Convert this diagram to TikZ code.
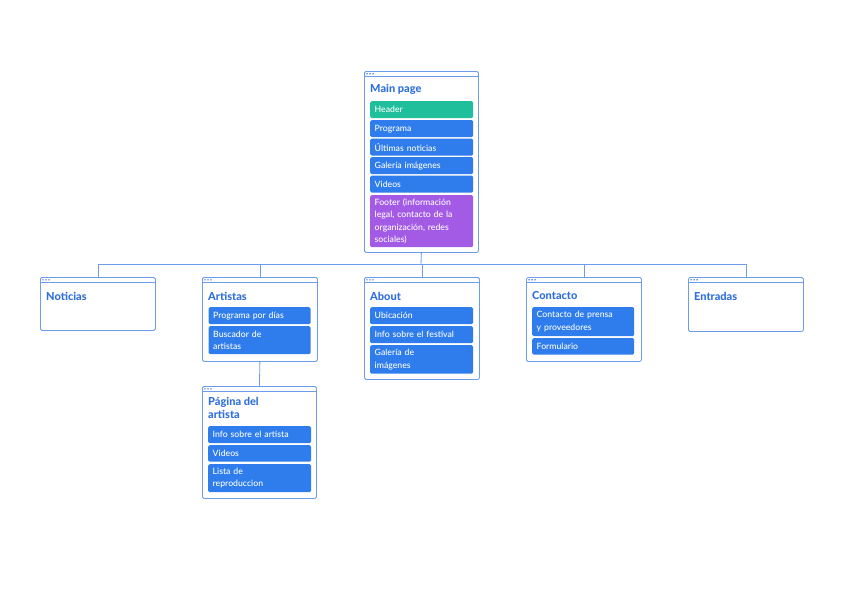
\documentclass[tikz,border=0pt]{standalone}
\usepackage{fontspec}
\setmainfont{Lato}[BoldFont={Lato Heavy}]
\newfontfamily\medfont{Lato Medium}
\definecolor{winblue}{HTML}{6C9CEB}
\definecolor{titleblue}{HTML}{2F6FDD}
\definecolor{itemblue}{HTML}{2F7DEC}
\definecolor{teal}{HTML}{20BF9C}
\definecolor{purp}{HTML}{A35BE6}
\tikzset{
  win/.style={draw=winblue, line width=0.8pt, rounded corners=1.5pt, fill=white, anchor=north west, inner sep=0pt},
  itm/.style={fill=itemblue, rounded corners=1.5pt, anchor=north west, text=white, font=\medfont\fontsize{8.7}{12.4}\selectfont, align=left, inner xsep=4.5pt, inner ysep=0pt},
  ttl/.style={anchor=west, text=titleblue, font=\fontsize{11}{12.4}\selectfont\bfseries, inner sep=0pt, align=left},
  conn/.style={draw=winblue, line width=0.8pt},
}
\newcommand\winbox[5]{% name, x, y, w, h
  \node[win, minimum width=#4pt, minimum height=#5pt] (#1) at (#2,#3) {};
  \draw[winblue, line width=0.6pt] ([yshift=-5.5pt]#1.north west) -- ([yshift=-5.5pt]#1.north east);
  \foreach \d in {3,6,9} \fill[titleblue] ([xshift=\d pt, yshift=-2.8pt]#1.north west) circle (0.8pt);
}
\newcommand\itembox[7]{% name, x, y, w, h, color, text
  \node[itm, fill=#6, minimum width=#4pt, minimum height=#5pt, text width=#4pt-9pt] (#1) at (#2,#3) {#7};
}
\begin{document}
\begin{tikzpicture}[x=1pt,y=-1pt]
\useasboundingbox (0,0) rectangle (842,595);
\fill[white] (0,0) rectangle (842,595);

% windows
\winbox{main}{364}{71}{114}{181}
\winbox{noticias}{40}{277}{115}{53}
\winbox{artistas}{202}{277}{115}{84}
\winbox{about}{364}{277}{115}{102}
\winbox{contacto}{526}{277}{115}{84}
\winbox{entradas}{688}{277}{115}{54}
\winbox{pagina}{202}{386}{114}{112}

% titles
\node[ttl] (tmain) at (370,89) {Main page};
\node[ttl] (tnot) at (46,296) {Noticias};
\node[ttl] (tart) at (208,296) {Artistas};
\node[ttl] (tabout) at (370,296) {About};
\node[ttl] (tcont) at (532,296) {Contacto};
\node[ttl] (tent) at (694,296) {Entradas};
\node[ttl] (tpag) at (208,408) {Página del\\artista};

% main page items
\itembox{header}{370}{101}{103}{17}{teal}{Header}
\itembox{programa}{370}{120}{103}{17}{itemblue}{Programa}
\itembox{ultimas}{370}{138.5}{103}{17}{itemblue}{Últimas noticias}
\itembox{galeria}{370}{157}{103}{17}{itemblue}{Galería imágenes}
\itembox{videos}{370}{175.5}{103}{17}{itemblue}{Videos}
\itembox{footer}{370}{195}{103}{52}{purp}{Footer (información\\legal, contacto de la\\organización, redes\\sociales)}

% artistas items
\itembox{progdias}{208.5}{307}{102}{17}{itemblue}{Programa por días}
\itembox{buscador}{208.5}{326}{102}{28}{itemblue}{Buscador de\\artistas}

% about items
\itembox{ubicacion}{370}{307}{103}{17}{itemblue}{Ubicación}
\itembox{infofest}{370}{326}{103}{17}{itemblue}{Info sobre el festival}
\itembox{galimg}{370}{345}{103}{28.5}{itemblue}{Galería de\\imágenes}

% contacto items
\itembox{prensa}{532}{307}{102}{29}{itemblue}{Contacto de prensa\\y proveedores}
\itembox{formulario}{532}{338}{102}{16.5}{itemblue}{Formulario}

% pagina items
\itembox{infoart}{208}{426}{103}{17}{itemblue}{Info sobre el artista}
\itembox{videosart}{208}{445}{103}{16.5}{itemblue}{Videos}
\itembox{lista}{208}{464}{103}{28}{itemblue}{Lista de\\reproduccion}

% connectors
\coordinate (bus) at (421,264.5);
\draw[conn] (main.south) -- (bus);
\draw[conn] (noticias.north) |- (bus);
\draw[conn] (artistas.north) |- (bus);
\draw[conn] (about.north) |- (bus);
\draw[conn] (contacto.north) |- (bus);
\draw[conn] (entradas.north) |- (bus);
\draw[conn] (artistas.south) -- (pagina.north);
\end{tikzpicture}
\end{document}
